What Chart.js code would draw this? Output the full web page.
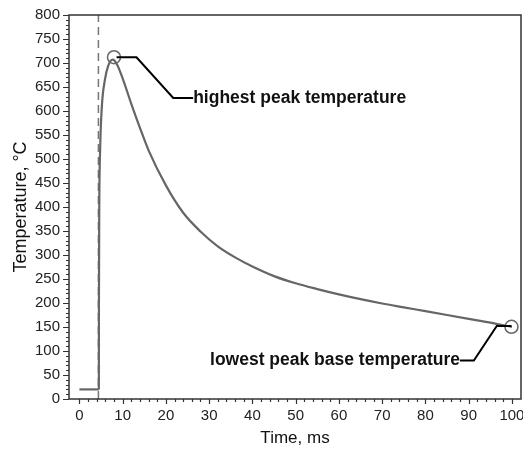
<!DOCTYPE html>
<html>
<head>
<meta charset="utf-8">
<script src="https://cdn.jsdelivr.net/npm/chart.js@4"></script>
<style>
  html, body { margin: 0; padding: 0; background: #fff; }
  #wrap { width: 523px; height: 452px; }
</style>
</head>
<body>
<div id="wrap"><canvas id="tempChart"></canvas></div>
<script>
// data
const baseTime = [0, 4.5];
const baseTemp = [20, 20];
const timeMs = [4.5, 4.52, 4.6, 4.8, 5.2, 5.9, 6.7, 7.7, 8.7, 10, 12, 14, 16, 20, 24, 28, 32, 36, 40, 45, 50, 55, 60, 65, 70, 75, 80, 85, 90, 95, 100];
const temperature = [20, 200, 400, 520, 610, 665, 695, 707, 697, 668, 615, 565, 518, 445, 388, 349, 318, 295, 276, 256, 241, 229, 218, 208, 199, 191, 183, 175, 167, 159, 150];
const pulseTime = [4.4, 4.4];
const pulseTemp = [0, 800];
const peakMarks = [[8.0, 712], [99.9, 150.5]];
const highLeaderTime = [8.6, 13.2, 21.7, 26.3];
const highLeaderTemp = [712, 712, 627, 627];
const lowLeaderTime = [99.9, 96.5, 91.2, 88.0];
const lowLeaderTemp = [152, 152, 80, 80];
const xMajorTicks = [0, 10, 20, 30, 40, 50, 60, 70, 80, 90, 100];
const yMajorTicks = [0, 50, 100, 150, 200, 250, 300, 350, 400, 450, 500, 550, 600, 650, 700, 750, 800];

const pts = (xs, ys) => xs.map((x, i) => ({ x: x, y: ys[i] }));
const FONT = "'Liberation Sans', Arial, sans-serif";

// frame, minor/major ticks, annotation texts
const extras = {
  id: "extras",
  afterDraw(chart) {
    const { ctx, chartArea: a } = chart;
    const xs = chart.scales.x, ys = chart.scales.y;
    ctx.save();
    ctx.strokeStyle = "#333";
    ctx.lineWidth = 1.5;
    ctx.strokeRect(a.left, a.top, a.right - a.left, a.bottom - a.top);
    ctx.lineWidth = 1.2;
    ctx.beginPath();
    for (let v = 0; v <= 100; v += 2) {
      const px = Math.round(xs.getPixelForValue(v)) + 0.5;
      const len = v % 10 === 0 ? 5 : 3;
      ctx.moveTo(px, a.bottom);
      ctx.lineTo(px, a.bottom + len);
    }
    for (let v = 0; v <= 800; v += 10) {
      const py = Math.round(ys.getPixelForValue(v)) + 0.5;
      const len = v % 50 === 0 ? 6 : 3;
      ctx.moveTo(a.left, py);
      ctx.lineTo(a.left - len, py);
    }
    ctx.stroke();

    ctx.fillStyle = "#111";
    ctx.font = "bold 17.5px " + FONT;
    ctx.textBaseline = "middle";
    ctx.textAlign = "left";
    ctx.fillText("highest peak temperature",
      xs.getPixelForValue(26.3), ys.getPixelForValue(627));
    ctx.textAlign = "right";
    ctx.fillText("lowest peak base temperature",
      xs.getPixelForValue(88.0), ys.getPixelForValue(80));
    ctx.restore();
  }
};

new Chart(document.getElementById("tempChart"), {
  type: "scatter",
  data: {
    datasets: [
      {
        data: pts(highLeaderTime, highLeaderTemp),
        showLine: true, borderColor: "#000", borderWidth: 2, pointRadius: 0, order: 0,
      },
      {
        data: pts(lowLeaderTime, lowLeaderTemp),
        showLine: true, borderColor: "#000", borderWidth: 2, pointRadius: 0, order: 0,
      },
      {
        data: peakMarks.map(p => ({ x: p[0], y: p[1] })),
        showLine: false, pointRadius: 6.5, pointBorderWidth: 1.5,
        pointBorderColor: "#666", pointBackgroundColor: "rgba(0,0,0,0)", order: 1,
      },
      {
        data: pts(timeMs, temperature),
        showLine: true, borderColor: "#666", borderWidth: 2.2, pointRadius: 0,
        cubicInterpolationMode: "monotone", order: 2,
      },
      {
        data: pts(baseTime, baseTemp),
        showLine: true, borderColor: "#666", borderWidth: 2.2, pointRadius: 0, order: 2,
      },
      {
        data: pts(pulseTime, pulseTemp),
        showLine: true, borderColor: "#777", borderWidth: 1.5, borderDash: [8, 5],
        pointRadius: 0, order: 3,
      },
    ],
  },
  options: {
    responsive: true,
    maintainAspectRatio: false,
    animation: false,
    layout: { autoPadding: false, padding: { left: 0, top: 15, right: 2, bottom: 0 } },
    plugins: {
      legend: { display: false },
      tooltip: { enabled: false },
    },
    scales: {
      x: {
        type: "linear",
        min: -2.4,
        max: 102.1,
        afterBuildTicks: (s) => { s.ticks = xMajorTicks.map(v => ({ value: v })); },
        afterFit: (s) => { s.height = 53; s.paddingLeft = 0; s.paddingRight = 0; },
        grid: { display: false, drawTicks: false },
        border: { display: false },
        ticks: { padding: 8, color: "#222", font: { family: FONT, size: 15 }, maxRotation: 0 },
        title: {
          display: true, text: "Time, ms", color: "#111",
          font: { family: FONT, size: 17 }, padding: { top: 0, bottom: 3 },
        },
      },
      y: {
        type: "linear",
        min: 0,
        max: 800,
        afterBuildTicks: (s) => { s.ticks = yMajorTicks.map(v => ({ value: v })); },
        afterFit: (s) => { s.width = 69; s.paddingTop = 0; s.paddingBottom = 0; },
        grid: { display: false, drawTicks: false },
        border: { display: false },
        ticks: { padding: 9, color: "#222", font: { family: FONT, size: 15 } },
        title: {
          display: true, text: "Temperature, °C", color: "#111",
          font: { family: FONT, size: 18 }, padding: { top: 10, bottom: 0 },
        },
      },
    },
  },
  plugins: [extras],
});
</script>
</body>
</html>
